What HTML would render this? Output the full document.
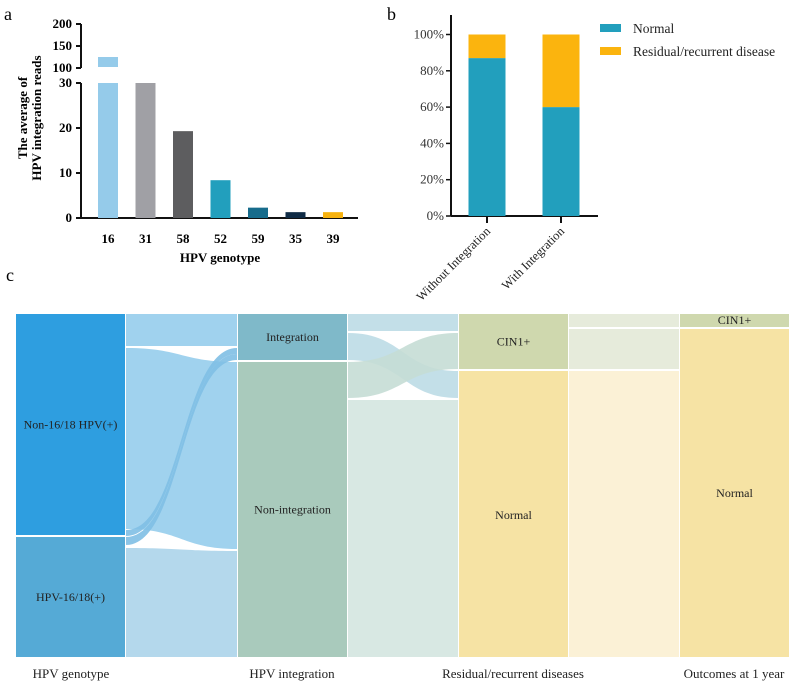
<!DOCTYPE html>
<html><head><meta charset="utf-8"><style>
body{margin:0;background:#fff;width:798px;height:688px;overflow:hidden}
svg{font-family:"Liberation Serif",serif}
</style></head><body>
<svg id="s" width="798" height="688" viewBox="0 0 798 688">
<text x="4" y="20" font-size="18">a</text>
<text x="387" y="20" font-size="18">b</text>
<text x="6" y="281" font-size="18">c</text>
<g id="pa"></g>
<g id="pb"></g>
<g id="pc"></g>
</svg>
<script>
const NS="http://www.w3.org/2000/svg";
function mk(p,t,a){const e=document.createElementNS(NS,t);for(const k in a)e.setAttribute(k,a[k]);p.appendChild(e);return e;}
// ---- Panel a data
const genotypes=["16","31","58","52","59","35","39"];
const readValues=[125,30,19.3,8.4,2.3,1.3,1.3];
const barColors=["#95cbea","#a0a0a5","#5d5d5f","#229fbd","#176c8c","#0f2b45","#f7b20e"];
const lowTicks=[0,10,20,30];
const highTicks=[100,150,200];
// ---- Panel b data
const groups=["Without Integration","With Integration"];
const normalPct=[87,60];
const residualPct=[13,40];
const pctTicks=[0,20,40,60,80,100];

const pa=document.getElementById("pa");
const yLow=v=>218-v*(135/30);
const yHigh=v=>68-(v-100)*(44/100);
const xA=i=>108+i*37.5;
mk(pa,"line",{x1:81,y1:218,x2:358,y2:218,stroke:"#111","stroke-width":2});
mk(pa,"line",{x1:81,y1:83,x2:81,y2:218,stroke:"#111","stroke-width":2});
mk(pa,"line",{x1:81,y1:24,x2:81,y2:68,stroke:"#111","stroke-width":2});
lowTicks.forEach(t=>{mk(pa,"line",{x1:76,y1:yLow(t),x2:81,y2:yLow(t),stroke:"#111","stroke-width":2});
 const tx=mk(pa,"text",{x:72,y:yLow(t)+4,"font-size":13,"font-weight":"bold","text-anchor":"end"});tx.textContent=t;
 
 });
highTicks.forEach(t=>{mk(pa,"line",{x1:76,y1:yHigh(t),x2:81,y2:yHigh(t),stroke:"#111","stroke-width":2});
 const tx=mk(pa,"text",{x:72,y:yHigh(t)+4,"font-size":13,"font-weight":"bold","text-anchor":"end"});tx.textContent=t;
 
 });
genotypes.forEach((g,i)=>{const v=readValues[i],c=barColors[i],x=xA(i)-10;
 if(v>30){const r=mk(pa,"rect",{x:x,y:yLow(30),width:20,height:218-yLow(30),fill:c});
  
  
  const r2=mk(pa,"rect",{x:x,y:yHigh(v),width:20,height:yHigh(100)-yHigh(v)-1,fill:c});
  
  }
 else{const r=mk(pa,"rect",{x:x,y:yLow(v),width:20,height:218-yLow(v),fill:c});
  
  }
 const t=mk(pa,"text",{x:xA(i),y:243,"font-size":13,"font-weight":"bold","text-anchor":"middle"});t.textContent=g;
 
 });
let tt=mk(pa,"text",{x:220,y:262,"font-size":13,"font-weight":"bold","text-anchor":"middle"});tt.textContent="HPV genotype";


tt=mk(pa,"text",{x:0,y:0,"font-size":13,"font-weight":"bold","text-anchor":"middle",transform:"translate(27,118) rotate(-90)"});
mk(tt,"tspan",{x:0,dy:0}).textContent="The average of";mk(tt,"tspan",{x:0,dy:14}).textContent="HPV integration reads";



const pb=document.getElementById("pb");
const yB=v=>216-v*1.815;
const xB=i=>487+i*74;
mk(pb,"line",{x1:451,y1:216,x2:598,y2:216,stroke:"#111","stroke-width":2});
mk(pb,"line",{x1:451,y1:15,x2:451,y2:216,stroke:"#111","stroke-width":2});
pctTicks.forEach(p=>{mk(pb,"line",{x1:446,y1:yB(p),x2:451,y2:yB(p),stroke:"#111","stroke-width":1.5});
 const tx=mk(pb,"text",{x:444,y:yB(p)+4,"font-size":13,"text-anchor":"end",fill:"#333"});tx.textContent=p+"%";
 
 });
groups.forEach((g,i)=>{
 const r=mk(pb,"rect",{x:xB(i)-18.5,y:yB(normalPct[i]),width:37,height:216-yB(normalPct[i]),fill:"#229fbd"});
 
 
 const r2=mk(pb,"rect",{x:xB(i)-18.5,y:yB(normalPct[i]+residualPct[i]),width:37,height:yB(normalPct[i])-yB(normalPct[i]+residualPct[i]),fill:"#fbb40e"});
 
 
 mk(pb,"line",{x1:xB(i),y1:216,x2:xB(i),y2:223,stroke:"#111","stroke-width":2});
 const tx=mk(pb,"text",{x:0,y:0,"font-size":12.5,"text-anchor":"end",fill:"#222",transform:`translate(${xB(i)+4},${232}) rotate(-45)`});tx.textContent=g;
 
 });
[["Normal","#229fbd",24],["Residual/recurrent disease","#fbb40e",47]].forEach(([n,c,y])=>{
 const g=mk(pb,"g",{});
 
 
 mk(g,"rect",{x:600,y:y,width:21,height:8,fill:c});
 mk(g,"text",{x:633,y:y+9,"font-size":13.5,fill:"#222"}).textContent=n;});

// ---- Panel c
const pc=document.getElementById("pc");
const colX=[16,238,459,680];const colW=109;
const nodes=[
 [0,"Non-16/18 HPV(+)",314,535,"#2e9ee0"],[0,"HPV-16/18(+)",537,657,"#55aad6"],
 [1,"Integration",314,360,"#7fb9c9"],[1,"Non-integration",362,657,"#a9cabc"],
 [2,"CIN1+",314,369,"#cfd8ae"],[2,"Normal",371,657,"#f6e3a4"],
 [3,"CIN1+",314,327,"#cfd8ae"],[3,"Normal",329,657,"#f6e3a4"]];
const links=[
 [0,314,346,314,346,"#96cdec"],[0,348,529,362,549,"#96cdec"],[0,530,536,348,354,"#7fbfe4"],[0,537,545,354,360,"#7fbfe4"],[0,548,657,551,657,"#acd4ea"],
 [1,314,331,314,331,"#bcdce5"],[1,333,360,371,398,"#bcdce5"],[1,362,398,333,369,"#c5ddd5"],[1,400,657,400,657,"#d4e5e0"],
 [2,314,327,314,327,"#e3e9d7"],[2,329,369,329,369,"#e3e9d7"],[2,371,657,371,657,"#fbf0d1"]];
links.forEach(([c,a0,a1,b0,b1,col])=>{const x0=colX[c]+colW+1,x1=colX[c+1]-1,m=(x0+x1)/2;
 const p=mk(pc,"path",{d:`M${x0},${a0}C${m},${a0} ${m},${b0} ${x1},${b0}L${x1},${b1}C${m},${b1} ${m},${a1} ${x0},${a1}Z`,fill:col,"fill-opacity":0.9});
 
 });
nodes.forEach(([c,n,y0,y1,col])=>{const r=mk(pc,"rect",{x:colX[c],y:y0,width:colW,height:y1-y0,fill:col});
 
 
 const cy=(c==3&&n=="CIN1+")?324:(c==3?497:(c==2&&n=="Normal")?519:(y0+y1)/2+4);
 const tx=mk(pc,"text",{x:colX[c]+colW/2,y:cy,"font-size":12,"text-anchor":"middle",fill:"#222"});tx.textContent=n;
 
 });
[["HPV genotype",71],["HPV integration",292],["Residual/recurrent diseases",513],["Outcomes at 1 year",734]].forEach(([n,x])=>{
 const tx=mk(pc,"text",{x:x,y:678,"font-size":13,"text-anchor":"middle",fill:"#222"});tx.textContent=n;
 
 });
</script>
</body></html>
